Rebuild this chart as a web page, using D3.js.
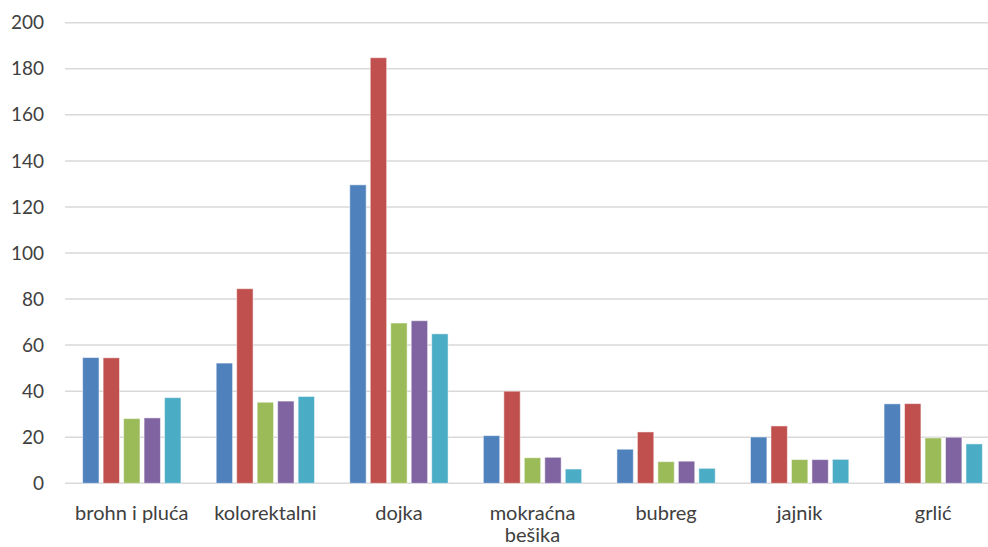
<!DOCTYPE html>
<html>
<head>
<meta charset="utf-8">
<script src="https://cdn.jsdelivr.net/npm/d3@7"></script>
<style>
  html, body { margin: 0; padding: 0; background: #fff; }
  svg { display: block; }
</style>
</head>
<body>
<svg id="chart" width="988" height="547"></svg>
<script>
const categories = ["brohn i pluća", "kolorektalni", "dojka", "mokraćna bešika", "bubreg", "jajnik", "grlić"];
const categoryLines = [["brohn i pluća"], ["kolorektalni"], ["dojka"], ["mokraćna", "bešika"], ["bubreg"], ["jajnik"], ["grlić"]];
const seriesNames = ["s1", "s2", "s3", "s4", "s5"];
const series1 = [54.6, 52.2, 129.6, 20.7, 14.8, 20.1, 34.5];
const series2 = [54.5, 84.5, 184.8, 40.0, 22.3, 24.9, 34.6];
const series3 = [28.1, 35.2, 69.6, 11.1, 9.4, 10.3, 19.7];
const series4 = [28.4, 35.7, 70.6, 11.3, 9.6, 10.3, 20.0];
const series5 = [37.2, 37.7, 64.9, 6.2, 6.5, 10.4, 17.1];
const yTicks = [0, 20, 40, 60, 80, 100, 120, 140, 160, 180, 200];
const colors = ["#4F81BD", "#C0504D", "#9BBB59", "#8064A2", "#4BACC6"];

const allSeries = [series1, series2, series3, series4, series5];
const svg = d3.select("#chart");
const font = "Lato, 'Open Sans', sans-serif";

const y = d3.scaleLinear().domain([0, 200]).range([483.3, 22.7]);
const x0 = d3.scaleBand().domain(categories).range([65, 1000]).paddingInner(0.264).paddingOuter(0.132);
const x1 = d3.scaleBand().domain(seriesNames).range([0, x0.bandwidth()]).paddingInner(0.2);

// gridlines
svg.append("g").selectAll("line").data(yTicks).join("line")
  .attr("x1", 65).attr("x2", 988)
  .attr("y1", d => y(d)).attr("y2", d => y(d))
  .attr("stroke", "#d9d9d9").attr("stroke-width", 1.5);

// y labels
svg.append("g").selectAll("text").data(yTicks).join("text")
  .attr("x", 44).attr("y", d => y(d)).attr("dy", "0.35em")
  .attr("text-anchor", "end")
  .attr("font-family", font).attr("font-size", 19).attr("fill", "#404040")
  .text(d => d);

// bars
const groups = svg.append("g").selectAll("g").data(categories).join("g")
  .attr("transform", c => `translate(${x0(c)},0)`);
groups.selectAll("rect")
  .data((c, i) => seriesNames.map((s, j) => ({ s, j, v: allSeries[j][i] })))
  .join("rect")
  .attr("x", d => x1(d.s))
  .attr("width", x1.bandwidth())
  .attr("y", d => y(d.v))
  .attr("height", d => y(0) - y(d.v))
  .attr("fill", d => colors[d.j])
  .attr("stroke", "#ffffff").attr("stroke-opacity", 0.5).attr("stroke-width", 1);

// x labels
const xl = svg.append("g").selectAll("text").data(categories).join("text")
  .attr("x", c => x0(c) + x0.bandwidth() / 2)
  .attr("y", 520)
  .attr("text-anchor", "middle")
  .attr("font-family", font).attr("font-size", 20).attr("fill", "#404040");
xl.each(function(c, i) {
  const t = d3.select(this);
  categoryLines[i].forEach((ln, k) => {
    t.append("tspan").attr("x", x0(c) + x0.bandwidth() / 2)
      .attr("dy", k === 0 ? 0 : 22).text(ln);
  });
});
</script>
</body>
</html>
